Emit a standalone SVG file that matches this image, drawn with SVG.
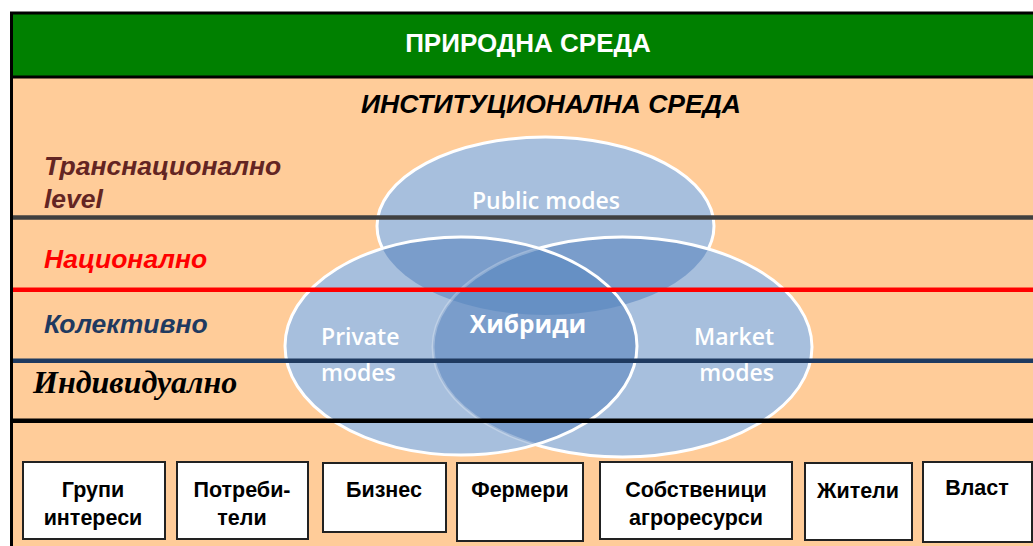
<svg xmlns="http://www.w3.org/2000/svg" width="1033" height="546" viewBox="0 0 1033 546">
<style>
.lbl{font-family:"Liberation Sans",Arial,sans-serif;font-weight:bold;font-style:italic;font-size:26.5px}
.venn{font-family:"Open Sans","Noto Sans",sans-serif;font-weight:600;font-size:23px;fill:#fff}
.box{fill:#fff;stroke:#222;stroke-width:2}
.bt{font-family:"Liberation Sans",Arial,sans-serif;font-weight:bold;font-size:21.5px;fill:#000;text-anchor:middle}
.fill1{fill:#A7BFDD}
.fill2{fill:#7A9DCB}
.fill3{fill:#6690C4}
</style>
<defs>
<clipPath id="cPub"><ellipse cx="545.5" cy="226" rx="168.5" ry="89"/></clipPath>
<clipPath id="cPriv"><ellipse cx="461" cy="346" rx="176" ry="109"/></clipPath>
<clipPath id="cMkt"><ellipse cx="622.5" cy="347" rx="189.5" ry="110"/></clipPath>
<mask id="mPub"><rect x="0" y="0" width="1033" height="546" fill="#fff"/><ellipse cx="461" cy="346" rx="176" ry="109" fill="#000"/><ellipse cx="622.5" cy="347" rx="189.5" ry="110" fill="#000"/></mask>
<mask id="mMkt"><rect x="0" y="0" width="1033" height="546" fill="#fff"/><ellipse cx="461" cy="346" rx="176" ry="109" fill="#444"/></mask>
</defs>
<rect x="0" y="0" width="1033" height="546" fill="#fff"/>
<rect x="11" y="78" width="1030" height="470" fill="#FFCC99"/>
<g id="header">
<rect x="11.5" y="13" width="1030" height="64" fill="#008000" stroke="#000" stroke-width="3"/>
<text x="528" y="52" text-anchor="middle" font-family="Liberation Sans,Arial,sans-serif" font-weight="bold" font-size="26" fill="#fff">ПРИРОДНА СРЕДА</text>
</g>
<line x1="11.5" y1="13" x2="11.5" y2="546" stroke="#000" stroke-width="3"/>
<g id="institutional">
<text x="551" y="113" text-anchor="middle" class="lbl" fill="#000">ИНСТИТУЦИОНАЛНА СРЕДА</text>
</g>
<g id="venn">
<g class="fill1">
<ellipse cx="545.5" cy="226" rx="168.5" ry="89"/>
<ellipse cx="622.5" cy="347" rx="189.5" ry="110"/>
<ellipse cx="461" cy="346" rx="176" ry="109"/>
</g>
<g class="fill2">
<ellipse cx="461" cy="346" rx="176" ry="109" clip-path="url(#cPub)"/>
<ellipse cx="622.5" cy="347" rx="189.5" ry="110" clip-path="url(#cPub)"/>
<ellipse cx="622.5" cy="347" rx="189.5" ry="110" clip-path="url(#cPriv)"/>
</g>
<g clip-path="url(#cPriv)"><ellipse class="fill3" cx="545.5" cy="226" rx="168.5" ry="89" clip-path="url(#cMkt)"/></g>
<g fill="none" stroke="#fff" stroke-width="3">
<ellipse cx="545.5" cy="226" rx="168.5" ry="89" mask="url(#mPub)"/>
<ellipse cx="622.5" cy="347" rx="189.5" ry="110" mask="url(#mMkt)"/>
<ellipse cx="461" cy="346" rx="176" ry="109"/>
</g>
</g>
<g id="level-lines" stroke-width="4.5">
<line x1="13" y1="217.5" x2="1033" y2="217.5" stroke="#404040"/>
<line x1="13" y1="289.7" x2="1033" y2="289.7" stroke="#FF0000"/>
<line x1="13" y1="360.8" x2="1033" y2="360.8" stroke="#1F3A60"/>
<line x1="13" y1="420.8" x2="1033" y2="420.8" stroke="#000"/>
</g>
<g id="venn-labels">
<text x="546" y="209" text-anchor="middle" class="venn">Public modes</text>
<text x="321" y="345" class="venn">Private</text>
<text x="321" y="381" class="venn">modes</text>
<text x="774" y="345" text-anchor="end" class="venn">Market</text>
<text x="774" y="381" text-anchor="end" class="venn">modes</text>
<text x="528" y="333" text-anchor="middle" font-family="Open Sans,Noto Sans,sans-serif" font-weight="bold" font-size="24.5" fill="#fff">Хибриди</text>
</g>
<g id="level-labels">
<text x="44" y="175" class="lbl" fill="#632523">Транснационално</text>
<text x="44" y="208" class="lbl" fill="#632523">level</text>
<text x="44" y="268" class="lbl" fill="#FF0000">Национално</text>
<text x="44" y="333" class="lbl" fill="#1F3A60">Колективно</text>
<text x="33" y="393" font-family="Liberation Serif,Times New Roman,serif" font-weight="bold" font-style="italic" font-size="32" fill="#000">Индивидуално</text>
</g>
<g id="box-grupi"><rect class="box" x="23" y="462" width="142" height="77"/><text class="bt" x="93" y="497">Групи</text><text class="bt" x="93" y="525">интереси</text></g>
<g id="box-potrebiteli"><rect class="box" x="177" y="462" width="131" height="77"/><text class="bt" x="242" y="497">Потреби-</text><text class="bt" x="242" y="525">тели</text></g>
<g id="box-biznes"><rect class="box" x="323" y="463" width="123" height="69"/><text class="bt" x="384" y="497">Бизнес</text></g>
<g id="box-fermeri"><rect class="box" x="457" y="463" width="126" height="78"/><text class="bt" x="520" y="497">Фермери</text></g>
<g id="box-sobstvenici"><rect class="box" x="600" y="462" width="192" height="77"/><text class="bt" x="696" y="497">Собственици</text><text class="bt" x="696" y="525">агроресурси</text></g>
<g id="box-shiteli"><rect class="box" x="805" y="463" width="107" height="77"/><text class="bt" x="858" y="498">Жители</text></g>
<g id="box-vlast"><rect class="box" x="923" y="462" width="109" height="80"/><text class="bt" x="977" y="495" font-size="19">Власт</text></g>
</svg>
